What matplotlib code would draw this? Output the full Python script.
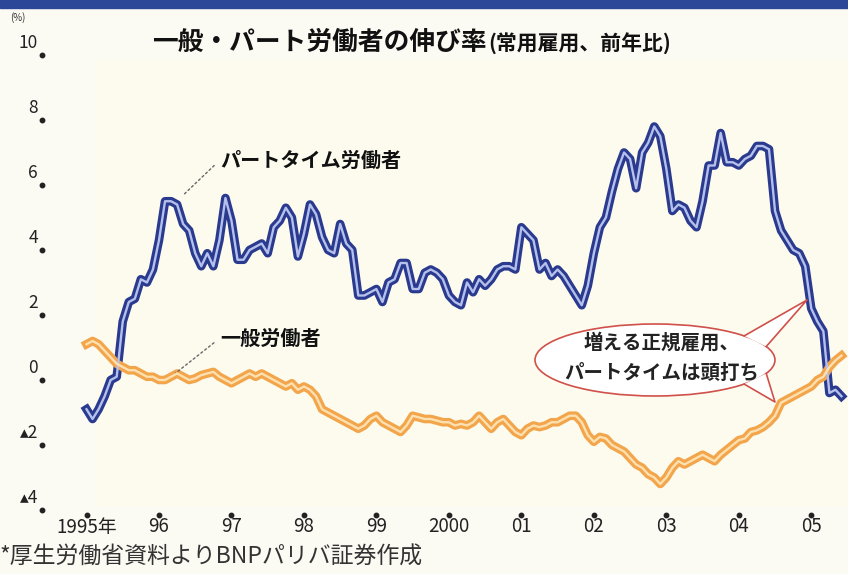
import matplotlib
matplotlib.use('Agg')
import matplotlib.pyplot as plt
import numpy as np
from matplotlib.patches import Ellipse, Polygon, Rectangle

plt.rcParams['font.family'] = ['Noto Sans CJK JP', 'DejaVu Sans']

# monthly data, Jan 1995 - Jun 2005 (%, y/y)
part_time = [
    -0.9, -1.2, -0.9, -0.5, 0.0, 0.1, 1.8, 2.4, 2.5, 3.1, 3.0, 3.4,     # 1995
    4.3, 5.5, 5.5, 5.4, 4.8, 4.6, 3.9, 3.5, 3.9, 3.5, 4.3, 5.6,         # 1996
    4.9, 3.7, 3.7, 4.0, 4.1, 4.2, 3.9, 4.7, 4.9, 5.3, 5.0, 3.8,         # 1997
    4.5, 5.4, 5.1, 4.4, 4.0, 3.9, 4.8, 4.2, 4.0, 2.6, 2.6, 2.7,         # 1998
    2.8, 2.4, 3.0, 3.1, 3.6, 3.6, 2.8, 2.8, 3.3, 3.4, 3.3, 3.1,         # 1999
    2.6, 2.4, 2.3, 3.0, 2.7, 3.1, 2.9, 3.1, 3.4, 3.5, 3.5, 3.4,         # 2000
    4.7, 4.5, 4.3, 3.4, 3.6, 3.2, 3.4, 3.2, 2.9, 2.6, 2.3, 2.9,         # 2001
    3.9, 4.7, 5.0, 5.8, 6.5, 7.0, 6.8, 5.9, 7.0, 7.3, 7.8, 7.5,         # 2002
    6.5, 5.2, 5.4, 5.3, 4.9, 4.7, 5.5, 6.6, 6.6, 7.6, 6.7, 6.7,         # 2003
    6.6, 6.8, 6.9, 7.2, 7.2, 7.1, 5.2, 4.6, 4.3, 4.0, 3.9, 3.5,         # 2004
    2.2, 1.8, 1.5, -0.4, -0.3, -0.5,                                     # 2005
]
general = [
    1.1, 1.2, 1.1, 0.9, 0.7, 0.5, 0.4, 0.3, 0.3, 0.2, 0.1, 0.1,
    0.0, 0.0, 0.1, 0.2, 0.1, 0.0, 0.05, 0.15, 0.2, 0.25, 0.1, 0.0,
    -0.1, 0.0, 0.1, 0.2, 0.1, 0.2, 0.1, 0.0, -0.1, -0.2, -0.1, -0.3,
    -0.2, -0.3, -0.5, -0.9, -1.0, -1.1, -1.2, -1.3, -1.4, -1.5, -1.4, -1.2,
    -1.1, -1.3, -1.4, -1.5, -1.6, -1.4, -1.1, -1.15, -1.2, -1.2, -1.25, -1.3,
    -1.3, -1.4, -1.35, -1.4, -1.3, -1.1, -1.3, -1.5, -1.3, -1.2, -1.4, -1.6,
    -1.7, -1.5, -1.4, -1.45, -1.4, -1.3, -1.3, -1.2, -1.1, -1.1, -1.3, -1.7,
    -1.9, -1.75, -1.8, -2.0, -2.1, -2.2, -2.4, -2.6, -2.7, -2.9, -3.0, -3.2,
    -3.0, -2.7, -2.5, -2.6, -2.5, -2.4, -2.3, -2.4, -2.5, -2.3, -2.15, -2.0,
    -1.85, -1.8, -1.6, -1.55, -1.45, -1.3, -1.1, -0.7, -0.6, -0.5, -0.4, -0.3,
    -0.2, 0.0, 0.1, 0.4, 0.6, 0.75,
]
year_labels = ['1995年', '96', '97', '98', '99', '2000', '01', '02', '03', '04', '05']
y_ticks = [10, 8, 6, 4, 2, 0, -2, -4]
y_labels = ['10', '8', '6', '4', '2', '0', '▴2', '▴4']

W, H = 848, 574
fig = plt.figure(figsize=(W / 100, H / 100), dpi=100, facecolor='#fbfaf3')

# axes in pixel terms: left 42, right 848, top 55, bottom 515
ax = fig.add_axes([42 / W, 1 - 515 / H, (848 - 42) / W, (515 - 55) / H])
ax.set_facecolor('none')
months = np.arange(len(part_time))
ax.set_xlim(-7.37, 126.08)
ax.set_ylim(-4.154, 10.0)
for s in ax.spines.values():
    s.set_visible(False)
ax.set_xticks([])
ax.set_yticks([])

# pale plot background + blue band on top
fig.patches.append(Rectangle((95 / W, 1 - 505 / H), (848 - 95) / W, (505 - 60) / H,
                             transform=fig.transFigure, color='#fcfbee', zorder=-5))
fig.patches.append(Rectangle((0, 1 - 8 / H), 1, 8 / H, transform=fig.transFigure,
                             color='#2c4797', zorder=-5))

# double lines: dark edge + light core
ax.plot(months, part_time, color='#2a3a8e', lw=6.2, solid_joinstyle='round', zorder=3)
ax.plot(months, part_time, color='#b5c0ec', lw=1.7, solid_joinstyle='round', zorder=4)
ax.plot(months, general, color='#f2a54a', lw=6.2, solid_joinstyle='round', zorder=3)
ax.plot(months, general, color='#fde0b0', lw=1.7, solid_joinstyle='round', zorder=4)

# tick dots
year_pos = np.arange(len(year_labels)) * 12
ax.plot(year_pos, [-4.154] * len(year_pos), 'o', color='#222', ms=3.2, clip_on=False)
ax.plot([-7.37] * len(y_ticks), y_ticks, 'o', color='#222', ms=3.2, clip_on=False)
for xp, lab in zip(year_pos, year_labels):
    ax.annotate(lab, (xp, -4.154), xytext=(0, -12), textcoords='offset pixels',
                ha='center', va='center', fontsize=13.5, color='#222')
for yv, lab in zip(y_ticks, y_labels):
    ax.annotate(lab, (-7.37, yv), xytext=(-4, 12), textcoords='offset pixels',
                ha='right', va='center', fontsize=12.5, color='#222')
fig.text(18 / W, 1 - 18 / H, '(%)', fontsize=7, ha='center', va='center', color='#333')

# title
fig.text(152 / W, 1 - 42 / H, '一般・パート労働者の伸び率', fontsize=18.5,
         fontweight='bold', ha='left', va='center', color='#111')
fig.text(488 / W, 1 - 44 / H, '(常用雇用、前年比)', fontsize=15,
         fontweight='bold', ha='left', va='center', color='#111')

# series labels with dotted leaders
leader = dict(arrowstyle='-', ls=(0, (1.5, 2)), color='#666', lw=1,
              shrinkA=3, shrinkB=4, relpos=(0, 0.5))
ax.annotate('パートタイム労働者', xy=(15.5, 5.6), xytext=(220, 574 - 160),
            textcoords='figure pixels', fontsize=14.5, fontweight='bold',
            ha='left', va='center', color='#111', arrowprops=leader)
ax.annotate('一般労働者', xy=(14.0, 0.1), xytext=(220, 574 - 338),
            textcoords='figure pixels', fontsize=14.5, fontweight='bold',
            ha='left', va='center', color='#111', arrowprops=leader)


def px(x, y):
    return ((x - 86.5) / 6.04, (380 - y) / 32.5)


# speech balloon
cx, cy, a, b = 655, 360, 120, 36
ell = Ellipse(px(cx, cy), 2 * a / 6.04, 2 * b / 32.5, facecolor='#ffffff',
              edgecolor='#d0504a', lw=1.2, zorder=5)
ax.add_patch(ell)


def on_ell(deg):
    t = np.radians(deg)
    return px(cx + a * np.cos(t), cy - b * np.sin(t))


for d1, d2, tip in [(42, 22, (807, 300)), (-22, -42, (775, 402))]:
    p1, p2, pt = on_ell(d1), on_ell(d2), px(*tip)
    ax.add_patch(Polygon([p1, pt, p2], closed=True, facecolor='#ffffff',
                         edgecolor='none', zorder=6))
    ax.plot([p1[0], pt[0], p2[0]], [p1[1], pt[1], p2[1]], color='#d0504a',
            lw=1.2, zorder=6)
ax.text(*px(662, 343), '増える正規雇用、', fontsize=14, fontweight='bold',
        ha='center', va='center', color='#222', zorder=7)
ax.text(*px(662, 373), 'パートタイムは頭打ち', fontsize=14, fontweight='bold',
        ha='center', va='center', color='#222', zorder=7)

# footnote
fig.text(0, 1 - 557 / H, '*厚生労働省資料よりBNPパリバ証券作成', fontsize=16.5,
         ha='left', va='center', color='#333')

fig.savefig('out.png', dpi=100, facecolor=fig.get_facecolor())
